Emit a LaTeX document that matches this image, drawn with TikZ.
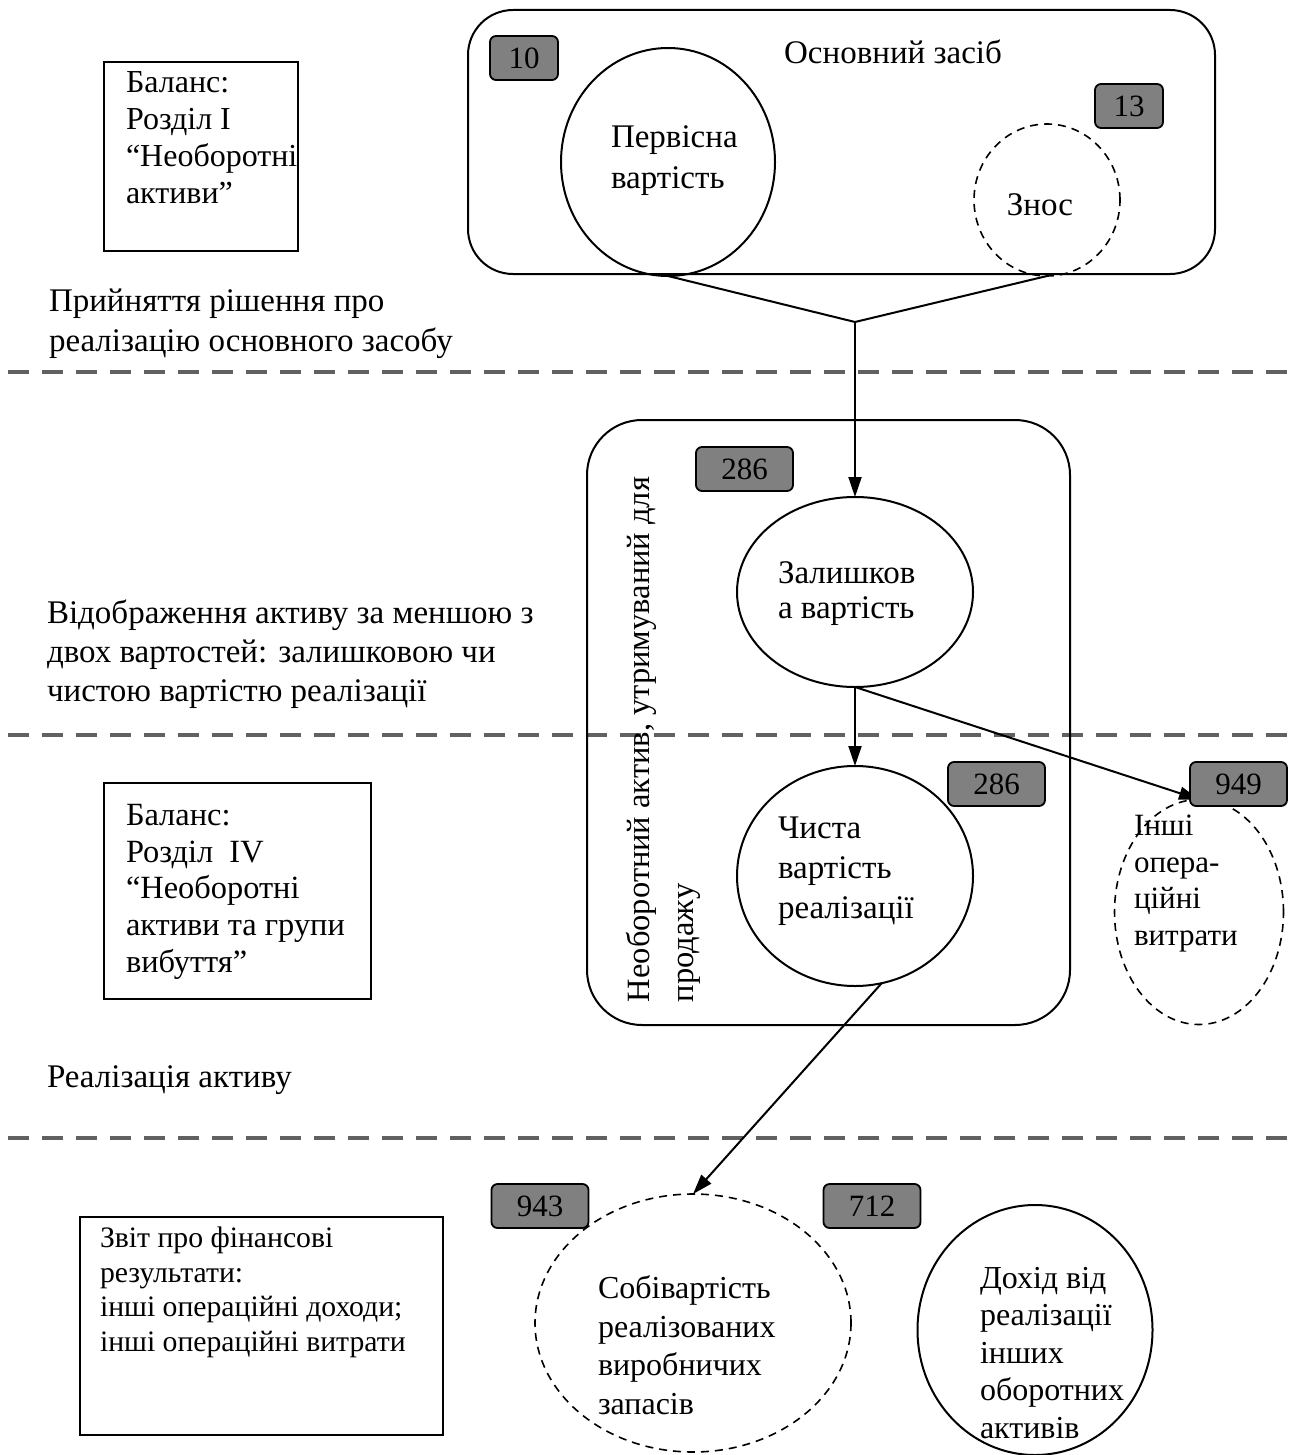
\documentclass[tikz,border=0pt]{standalone}
\usepackage{fontspec}
\setmainfont{Liberation Serif}
\usetikzlibrary{shapes.geometric,arrows.meta}
\begin{document}
\begin{tikzpicture}[x=1pt,y=-1pt,
  every node/.style={inner sep=0pt, outer sep=0pt},
  fs/.style 2 args={font=\fontsize{#1}{#2}\selectfont},
  txt/.style={align=left, anchor=north west, execute at begin node={\rule{0pt}{26pt}}},
  frame/.style={draw, line width=2.2pt},
  group/.style={draw, line width=2pt, rounded corners=#1},
  oval/.style={draw, ellipse, line width=2pt},
  dashoval/.style={oval, line width=1.6pt, dash pattern=on 8pt off 6pt},
  badge/.style={draw, line width=1.8pt, fill=black!50, rounded corners=6pt,
                minimum height=44pt, fs={31}{36}},
  sep/.style={draw=black!62, line width=3.2pt, dash pattern=on 21pt off 13pt},
  link/.style={line width=2pt},
  arr/.style={link, -{Triangle[length=20pt,width=13pt]}},
]
\useasboundingbox (0,0) rectangle (1289,1455);
\fill[white] (0,0) rectangle (1289,1455);

% stage separators
\draw[sep] (8,372) -- (1289,372);
\draw[sep] (8,735) -- (1289,735);
\draw[sep] (8,1138) -- (1289,1138);

% stage captions
\node[txt, fs={33}{40}] (cap1) at (49,289) {Прийняття рішення про\\реалізацію основного засобу};
\node[txt, fs={33}{39}] (cap2) at (47,600) {Відображення активу за меншою з\\двох вартостей: залишковою чи\\чистою вартістю реалізації};
\node[txt, fs={33}{40}] (cap3) at (47,1061) {Реалізація активу};

% report boxes on the left
\node[frame, minimum width=194pt, minimum height=189pt] (bal1) at (201,156.5) {};
\node[txt, fs={32}{37}] (bal1t) at (126,72) {Баланс:\\Розділ І\\“Необоротні\\активи”};

\node[frame, minimum width=267pt, minimum height=216pt] (bal2) at (237.5,891) {};
\node[txt, fs={32.4}{36.8}] (bal2t) at (126,804) {Баланс:\\Розділ~ IV\\“Необоротні\\активи та групи\\вибуття”};

\node[frame, minimum width=363pt, minimum height=218pt] (fin) at (261.5,1326) {};
\node[txt, fs={29.7}{34.5}] (fint) at (100,1227) {Звіт про фінансові\\результати:\\інші операційні доходи;\\інші операційні витрати};

% fixed asset
\node[group=45pt, minimum width=747pt, minimum height=264pt] (os) at (841.5,142) {};
\node[fs={33}{40}] (ost) at (893,52) {Основний засіб};
\node[oval, minimum width=214pt, minimum height=228pt] (perv) at (668,162) {};
\node[txt, fs={33}{41}] (pervt) at (611,126) {Первісна\\вартість};
\node[dashoval, minimum width=146pt, minimum height=152pt] (znos) at (1047,200) {};
\node[fs={33}{40}] (znost) at (1040,205) {Знос};

% asset held for sale
\node[group=55pt, minimum width=483pt, minimum height=605pt] (hfs) at (828.5,722.5) {};
\node[txt, fs={32.5}{44}, rotate=90] (hfst) at (626,1002) {Необоротний актив, утримуваний для\\продажу};
\node[oval, minimum width=236pt, minimum height=190pt] (zal) at (855,592) {};
\node[txt, fs={33}{35}] (zalt) at (778,562) {Залишков\\а вартість};
\node[oval, minimum width=236pt, minimum height=220pt] (chista) at (855,876) {};
\node[txt, fs={33}{40}] (chistat) at (778,817) {Чиста\\вартість\\реалізації};
\node[dashoval, minimum width=169pt, minimum height=225pt] (inshi) at (1199,912) {};
\node[txt, fs={31}{36.5}] (inshit) at (1134,815) {Інші\\опера-\\ційні\\витрати};

% disposal
\node[dashoval, minimum width=316pt, minimum height=258pt] (sobiv) at (693,1323) {};
\node[txt, fs={32}{38.5}] (sobivt) at (598,1276) {Собівартість\\реалізованих\\виробничих\\запасів};
\node[oval, minimum width=235pt, minimum height=250pt] (dohid) at (1035,1330) {};
\node[txt, fs={32}{37.5}] (dohidt) at (980,1267) {Дохід від\\реалізації\\інших\\оборотних\\активів};

% connectors
\coordinate (join) at (855,322);
\draw[link] (perv.south) -- (join) -- (znos.south);
\draw[arr] (join) -- (zal.north);
\draw[arr] (zal.south) -- (chista.north);
\draw[arr] (zal.south) -- (inshi.north);
\draw[arr] (chista.-76) -- (sobiv.north);

% account badges
\node[badge, minimum width=68pt] (b10) at (524,58) {10};
\node[badge, minimum width=68pt] (b13) at (1129,106) {13};
\node[badge, minimum width=97pt] (b286a) at (744.5,469) {286};
\node[badge, minimum width=97pt] (b286b) at (996.5,784) {286};
\node[badge, minimum width=97pt] (b949) at (1238.5,784) {949};
\node[badge, minimum width=97pt] (b943) at (540,1206) {943};
\node[badge, minimum width=97pt] (b712) at (872,1206) {712};
\end{tikzpicture}
\end{document}
